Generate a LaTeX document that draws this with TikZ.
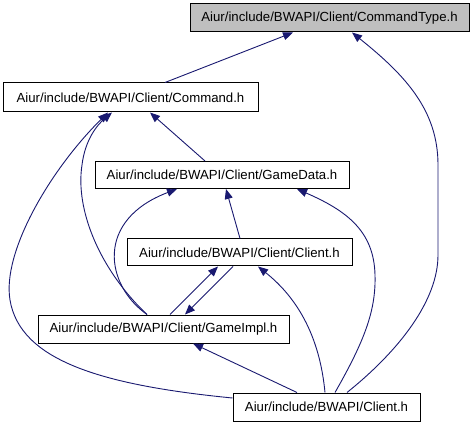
\documentclass[tikz,border=0pt]{standalone}
\usepackage{fontspec}
\setmainfont{Liberation Sans}
\usetikzlibrary{arrows.meta}
\definecolor{edgeblue}{HTML}{191970}
\definecolor{boxgray}{HTML}{BFBFBF}
\begin{document}
\begin{tikzpicture}[x=1pt,y=-1pt,
  file/.style={draw=black, fill=white, line width=1pt, inner sep=0pt, font=\fontsize{13.2}{15}\selectfont, anchor=center},
  dep/.style={draw=edgeblue, line width=0.9pt, -{Triangle[length=10pt,width=8pt]}}]
\useasboundingbox (0,0) rectangle (476,427);
\node[file, fill=boxgray, minimum width=279, minimum height=28] (ct) at (329.5,18) {Aiur/include/BWAPI/Client/CommandType.h};
\node[file, minimum width=255, minimum height=29] (cmd) at (130.5,97.5) {Aiur/include/BWAPI/Client/Command.h};
\node[file, minimum width=254, minimum height=27] (gd) at (222,175) {Aiur/include/BWAPI/Client/GameData.h};
\node[file, minimum width=225, minimum height=27] (cc) at (239.5,252.5) {Aiur/include/BWAPI/Client/Client.h};
\node[file, minimum width=251, minimum height=28] (gi) at (163.5,329) {Aiur/include/BWAPI/Client/GameImpl.h};
\node[file, minimum width=187, minimum height=28] (bc) at (326.5,407) {Aiur/include/BWAPI/Client.h};
\draw[dep] (cmd.north -| 165,0) -- (ct.south -| 293,0);
\draw[dep] (bc.north -| 347,0) .. controls (400,350) and (438,300) .. (438,255) -- (438,165) .. controls (438,110) and (405,75) .. (ct.south -| 352,0);
\draw[dep] (gd.north -| 205,0) -- (cmd.south -| 150,0);
\draw[dep] (gi.north -| 147,0) .. controls (100,270) and (75,210) .. (82,165) .. controls (85,140) and (97,125) .. (cmd.south -| 112,0);
\draw[dep] (bc.west |- 0,398) .. controls (100,385) and (20,360) .. (10,300) .. controls (2,252) and (50,170) .. (cmd.south -| 108,0);
\draw[dep] (cc.north -| 240,0) -- (gd.south -| 226,0);
\draw[dep] (gi.north -| 147,0) .. controls (105,285) and (95,220) .. (gd.south -| 177,0);
\draw[dep] (bc.north -| 335,0) .. controls (365,340) and (376,310) .. (375,275) .. controls (374,230) and (345,210) .. (gd.south -| 297,0);
\draw[dep] (gi.north -| 170,0) -- (cc.south -| 218,0);
\draw[dep] (cc.south -| 233,0) -- (gi.north -| 185,0);
\draw[dep] (bc.north -| 325,0) .. controls (320,340) and (300,300) .. (cc.south -| 258,0);
\draw[dep] (bc.north -| 297,0) -- (gi.south -| 193,0);
\end{tikzpicture}
\end{document}
